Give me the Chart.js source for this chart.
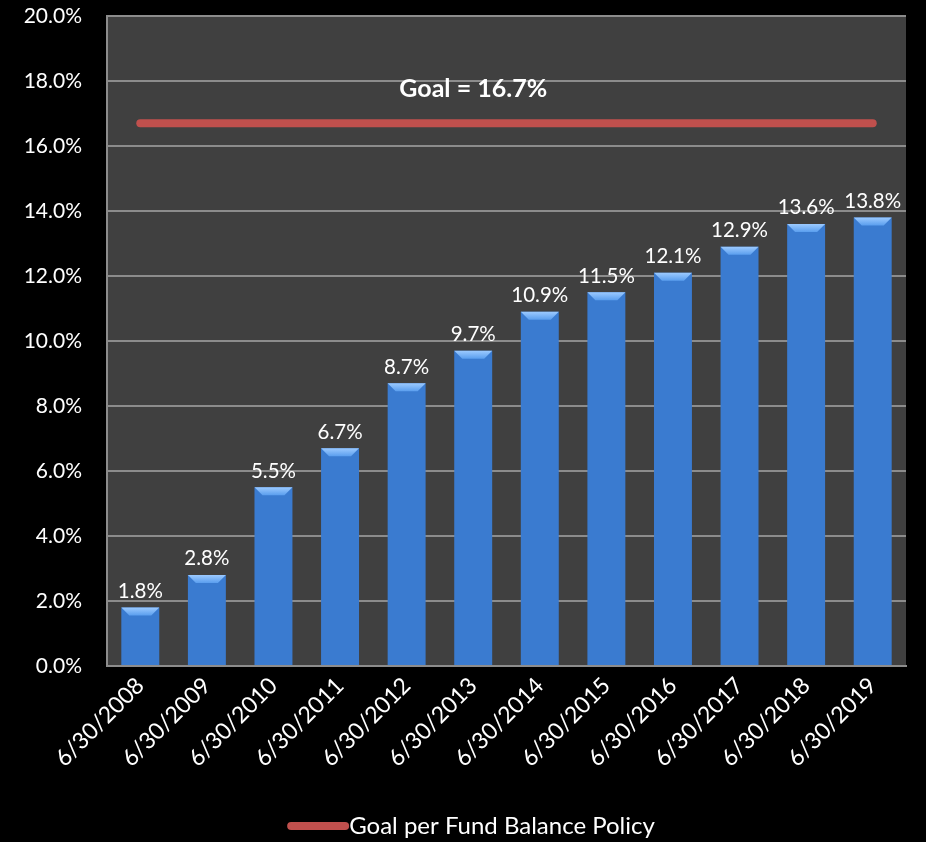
<!DOCTYPE html>
<html><head><meta charset="utf-8">
<script src="https://cdn.jsdelivr.net/npm/chart.js@4/dist/chart.umd.min.js"></script>
<style>html,body{margin:0;padding:0;background:#000;}#wrap{width:926px;height:842px;}</style>
</head><body><div id="wrap"><canvas id="c" width="926" height="842"></canvas></div>
<script>
const categories = ['6/30/2008','6/30/2009','6/30/2010','6/30/2011','6/30/2012','6/30/2013','6/30/2014','6/30/2015','6/30/2016','6/30/2017','6/30/2018','6/30/2019'];
const fundBalance = [1.8, 2.8, 5.5, 6.7, 8.7, 9.7, 10.9, 11.5, 12.1, 12.9, 13.6, 13.8];
const goalValues = [16.7, 16.7, 16.7, 16.7, 16.7, 16.7, 16.7, 16.7, 16.7, 16.7, 16.7, 16.7];
const goalLabel = 'Goal = 16.7%';
const legendLabel = 'Goal per Fund Balance Policy';
const yTicks = [0, 2, 4, 6, 8, 10, 12, 14, 16, 18, 20];

const FONT = 'Lato, "Open Sans", sans-serif';

const bgPlugin = {
  id: 'bg',
  beforeDraw(chart) {
    const {ctx, chartArea: a} = chart;
    ctx.save();
    ctx.fillStyle = '#000';
    ctx.fillRect(0, 0, chart.width, chart.height);
    ctx.fillStyle = '#404040';
    ctx.fillRect(a.left, a.top, a.right - a.left, a.bottom - a.top);
    ctx.restore();
  }
};

const barDeco = {
  id: 'barDeco',
  afterDatasetDraw(chart, args) {
    if (args.index !== 0) return;
    const ctx = chart.ctx;
    const meta = chart.getDatasetMeta(0);
    ctx.save();
    meta.data.forEach((bar, i) => {
      const x0 = bar.x - bar.width / 2, x1 = bar.x + bar.width / 2, top = bar.y;
      const b = 8;
      const g = ctx.createLinearGradient(0, top, 0, top + b);
      g.addColorStop(0, '#9ccaff');
      g.addColorStop(1, '#5a9eee');
      ctx.fillStyle = g;
      ctx.beginPath();
      ctx.moveTo(x0, top);
      ctx.lineTo(x1, top);
      ctx.lineTo(x1 - b, top + b);
      ctx.lineTo(x0 + b, top + b);
      ctx.closePath();
      ctx.fill();
      ctx.fillStyle = '#ffffff';
      ctx.font = '20.5px ' + FONT;
      ctx.textAlign = 'center';
      ctx.textBaseline = 'bottom';
      ctx.fillText(fundBalance[i].toFixed(1) + '%', bar.x, top - 6);
    });
    ctx.restore();
  }
};

const goalText = {
  id: 'goalText',
  afterDatasetsDraw(chart) {
    const ctx = chart.ctx;
    const xs = chart.scales.x, ys = chart.scales.y;
    ctx.save();
    ctx.fillStyle = '#ffffff';
    ctx.font = 'bold 25px ' + FONT;
    ctx.textAlign = 'center';
    ctx.textBaseline = 'middle';
    ctx.fillText(goalLabel, xs.getPixelForValue(5), ys.getPixelForValue(17.75));
    ctx.restore();
  }
};

const legendPlugin = {
  id: 'customLegend',
  afterDraw(chart) {
    const ctx = chart.ctx;
    ctx.save();
    ctx.font = '24px ' + FONT;
    const tw = ctx.measureText(legendLabel).width;
    const lineW = 54;
    const total = lineW + 8 + tw;
    const startX = (chart.width - total) / 2 + 8;
    const y = chart.height - 16;
    ctx.strokeStyle = '#c0504d';
    ctx.lineWidth = 8;
    ctx.lineCap = 'round';
    ctx.beginPath();
    ctx.moveTo(startX + 4, y);
    ctx.lineTo(startX + 4 + lineW, y);
    ctx.stroke();
    ctx.fillStyle = '#ffffff';
    ctx.textAlign = 'left';
    ctx.textBaseline = 'middle';
    ctx.fillText(legendLabel, startX + lineW + 8, y);
    ctx.restore();
  }
};

const ctx = document.getElementById('c').getContext('2d');

new Chart(ctx, {
  data: {
    labels: categories,
    datasets: [
      {
        type: 'bar',
        label: 'Fund Balance',
        data: fundBalance,
        backgroundColor: (c) => {
          const el = c.element;
          const chart = c.chart;
          if (!el || el.width === undefined) return '#3a7bd0';
          const x0 = el.x - el.width / 2, x1 = el.x + el.width / 2;
          const g = chart.ctx.createLinearGradient(x0, 0, x1, 0);
          g.addColorStop(0, '#1f4580');
          g.addColorStop(0.1, '#3470c2');
          g.addColorStop(0.45, '#4589de');
          g.addColorStop(0.88, '#3673c5');
          g.addColorStop(1, '#1d4380');
          return g;
        },
        borderWidth: 0,
        categoryPercentage: 1.0,
        barPercentage: 0.57,
        order: 2
      },
      {
        type: 'line',
        label: legendLabel,
        data: goalValues,
        borderColor: '#c0504d',
        backgroundColor: '#c0504d',
        borderWidth: 8,
        borderCapStyle: 'round',
        pointRadius: 0,
        pointHoverRadius: 0,
        fill: false,
        order: 1
      }
    ]
  },
  options: {
    responsive: false,
    animation: false,
    devicePixelRatio: 1,
    layout: { autoPadding: false, padding: { left: 0, right: 20, top: 16, bottom: 42 } },
    plugins: {
      legend: { display: false },
      tooltip: { enabled: false }
    },
    scales: {
      x: {
        grid: { display: false, drawTicks: false },
        border: { display: true, color: '#8c8c8c', width: 2 },
        ticks: {
          color: '#ffffff',
          font: { family: FONT, size: 23 },
          maxRotation: 45, minRotation: 45,
          padding: 6,
          autoSkip: false
        },
        afterFit(s) { s.height = 134; s.paddingTop = 0; }
      },
      y: {
        min: 0, max: 20,
        afterBuildTicks(s) { s.ticks = yTicks.map(v => ({ value: v })); },
        grid: { color: '#8c8c8c', lineWidth: 2, drawTicks: false },
        border: { display: true, color: '#8c8c8c', width: 2 },
        ticks: {
          color: '#ffffff',
          font: { family: FONT, size: 21 },
          padding: 25,
          callback: (v) => v.toFixed(1) + '%'
        },
        afterFit(s) { s.width = 107; s.paddingTop = 0; }
      }
    }
  },
  plugins: [bgPlugin, barDeco, goalText, legendPlugin]
});
</script></body></html>
